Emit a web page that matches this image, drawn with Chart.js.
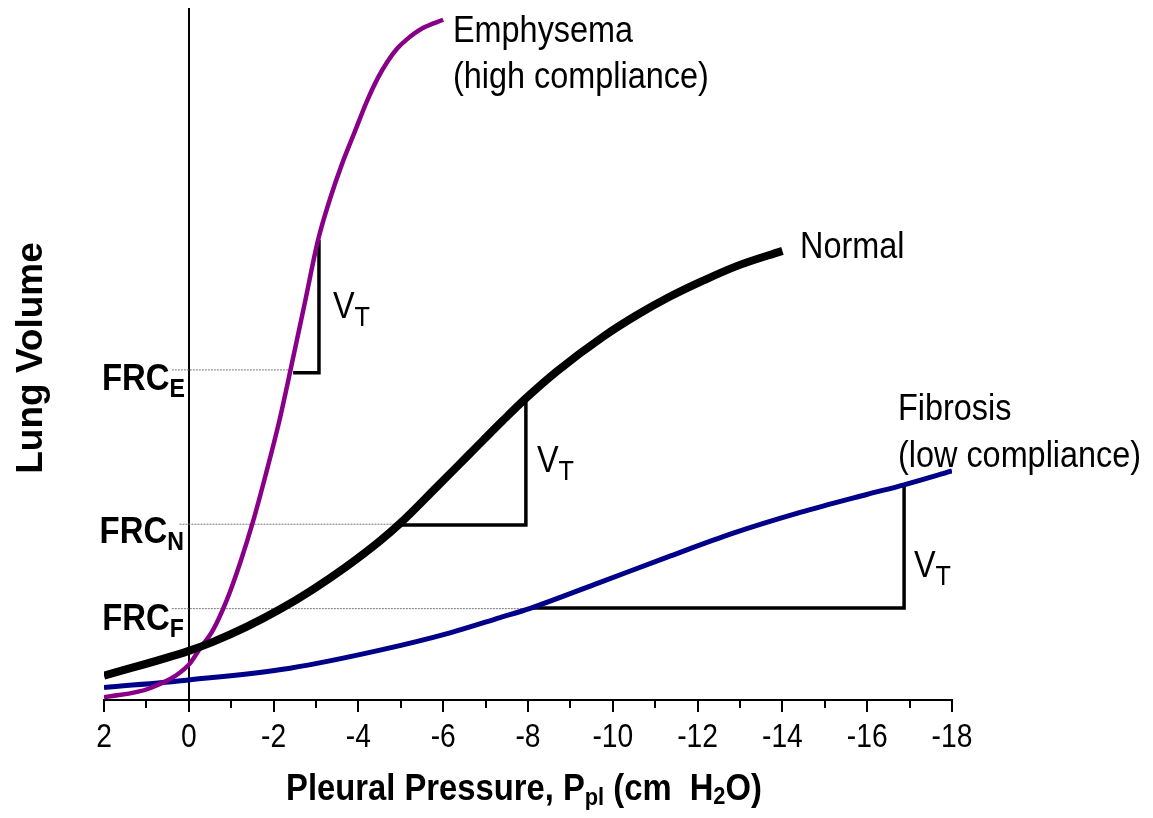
<!DOCTYPE html>
<html>
<head>
<meta charset="utf-8">
<script src="https://cdn.jsdelivr.net/npm/chart.js@4.4.0/dist/chart.umd.min.js"></script>
<style>
  html, body { margin: 0; padding: 0; background: #fff; }
  #wrap { width: 1153px; height: 818px; position: relative; }
</style>
</head>
<body>
<div id="wrap"><canvas id="chart"></canvas></div>
<script>
// pleural pressure (cm H2O) / lung volume (arbitrary units, 0-100)
const xTicks = [2, 0, -2, -4, -6, -8, -10, -12, -14, -16, -18];

const emphysemaP = [2, 0.92, 0, -0.26, -0.57, -0.9, -1.21, -1.51, -1.82, -2.13, -2.41, -2.74, -3.05, -3.33, -3.61, -3.92, -4.2, -4.46, -4.68, -4.91, -5.15, -5.52, -6];
const emphysemaV = [0.4, 1.7, 5.1, 7.4, 10.1, 14.5, 19.8, 25.7, 32.7, 40.2, 48.0, 57.5, 66.5, 72.4, 77.4, 82.2, 86.5, 89.9, 92.2, 94.1, 95.5, 97.1, 98.3];

const normalP = [2, 0, -0.57, -1.37, -2.15, -2.93, -3.72, -4.51, -4.98, -5.85, -6.63, -7.41, -7.95, -8.68, -9.77, -10.56, -11.35, -12.13, -12.92, -14];
const normalV = [3.5, 7.1, 8.4, 10.6, 13.1, 16.0, 19.3, 23.0, 25.5, 30.8, 35.6, 40.4, 43.6, 47.5, 52.5, 55.6, 58.3, 60.6, 62.7, 64.9];

const fibrosisP = [2, 0, -2.39, -4.51, -6.16, -7.34, -8.05, -9.70, -11.27, -12.84, -14.42, -15.99, -16.87, -18];
const fibrosisV = [1.8, 2.9, 4.6, 7.2, 9.7, 11.9, 13.25, 17.0, 20.6, 24.1, 27.1, 29.7, 31.1, 33.1];

// tidal volume triangles
const vtEmphysemaP = [-2.46, -3.07, -3.07];
const vtEmphysemaV = [47.3, 47.3, 66.5];
const vtNormalP = [-4.98, -7.95, -7.95];
const vtNormalV = [25.3, 25.3, 43.4];
const vtFibrosisP = [-8.05, -16.87, -16.87];
const vtFibrosisV = [13.3, 13.3, 30.9];

// FRC guide lines
const frcEP = [0.4, -2.4];
const frcEV = [47.7, 47.7];
const frcNP = [0.22, -4.98];
const frcNV = [25.4, 25.4];
const frcFP = [0.4, -8.05];
const frcFV = [13.2, 13.2];

const zip = (xs, ys) => xs.map((x, i) => ({ x: x, y: ys[i] }));

const FONT = '"Liberation Sans", Arial, Helvetica, sans-serif';

function drawParts(ctx, parts, x, y, align, sx) {
    let w = 0;
    parts.forEach(p => {
        ctx.font = (p.bold ? 'bold ' : '') + p.size + 'px ' + FONT;
        p.w = ctx.measureText(p.t).width;
        w += p.w;
    });
    ctx.save();
    ctx.translate(x, y);
    ctx.scale(sx, 1);
    ctx.textBaseline = 'alphabetic';
    ctx.textAlign = 'left';
    ctx.fillStyle = '#000';
    let cx = align === 'right' ? -w : (align === 'center' ? -w / 2 : 0);
    parts.forEach(p => {
        ctx.font = (p.bold ? 'bold ' : '') + p.size + 'px ' + FONT;
        ctx.fillText(p.t, cx, p.dy || 0);
        cx += p.w;
    });
    ctx.restore();
}

const textPlugin = {
    id: 'texts',
    afterDraw(chart) {
        const ctx = chart.ctx;
        const xs = chart.scales.x;
        const bottom = chart.chartArea.bottom;

        // minor ticks
        ctx.save();
        ctx.strokeStyle = '#000';
        ctx.lineWidth = 2;
        for (let v = 1; v > -18; v -= 2) {
            const px = Math.round(xs.getPixelForValue(v));
            ctx.beginPath();
            ctx.moveTo(px, bottom);
            ctx.lineTo(px, bottom + 8);
            ctx.stroke();
        }
        ctx.restore();

        // tick labels
        xTicks.forEach(v => {
            drawParts(ctx, [{ t: String(v), size: 34 }], xs.getPixelForValue(v), 747, 'center', 0.83);
        });

        // axis titles
        drawParts(ctx, [
            { t: 'Pleural Pressure, P', size: 36, bold: true },
            { t: 'pl', size: 24, bold: true, dy: 5 },
            { t: ' (cm  H', size: 36, bold: true },
            { t: '2', size: 24, bold: true, dy: 4 },
            { t: 'O)', size: 36, bold: true }
        ], 524, 800, 'center', 0.91);

        ctx.save();
        ctx.translate(42, 358);
        ctx.rotate(-Math.PI / 2);
        ctx.font = 'bold 37px ' + FONT;
        ctx.textAlign = 'center';
        ctx.fillStyle = '#000';
        ctx.fillText('Lung Volume', 0, 0);
        ctx.restore();

        // curve labels
        drawParts(ctx, [{ t: 'Emphysema', size: 36 }], 453, 42, 'left', 0.9);
        drawParts(ctx, [{ t: '(high compliance)', size: 36 }], 453, 88, 'left', 0.9);
        drawParts(ctx, [{ t: 'Normal', size: 36 }], 800, 258, 'left', 0.9);
        drawParts(ctx, [{ t: 'Fibrosis', size: 36 }], 898, 420, 'left', 0.9);
        drawParts(ctx, [{ t: '(low compliance)', size: 36 }], 898, 467, 'left', 0.9);

        // tidal volume labels
        const vt = [{ t: 'V', size: 36 }, { t: 'T', size: 28, dy: 8 }];
        drawParts(ctx, vt, 333, 318, 'left', 0.9);
        drawParts(ctx, vt, 537, 472, 'left', 0.9);
        drawParts(ctx, vt, 914, 577, 'left', 0.9);

        // FRC labels
        const frc = s => [{ t: 'FRC', size: 37, bold: true }, { t: s, size: 26, bold: true, dy: 7 }];
        drawParts(ctx, frc('E'), 185, 390, 'right', 0.89);
        drawParts(ctx, frc('N'), 184, 543, 'right', 0.89);
        drawParts(ctx, frc('F'), 184, 630, 'right', 0.89);
    }
};

const curve = (label, data, color, width) => ({
    label: label,
    data: data,
    borderColor: color,
    borderWidth: width,
    pointRadius: 0,
    fill: false,
    cubicInterpolationMode: 'monotone'
});
const seg = (data, color, width, dash) => ({
    data: data,
    borderColor: color,
    borderWidth: width,
    borderDash: dash || [],
    pointRadius: 0,
    fill: false,
    tension: 0
});

const ctx = document.getElementById('chart').getContext('2d');
new Chart(ctx, {
    type: 'line',
    data: {
        datasets: [
            curve('Normal', zip(normalP, normalV), '#000000', 8),
            curve('Emphysema', zip(emphysemaP, emphysemaV), '#880088', 4.5),
            curve('Fibrosis', zip(fibrosisP, fibrosisV), '#000088', 5),
            seg(zip(vtEmphysemaP, vtEmphysemaV), '#000', 3.5),
            seg(zip(vtNormalP, vtNormalV), '#000', 3.5),
            seg(zip(vtFibrosisP, vtFibrosisV), '#000', 3.5),
            seg(zip(frcEP, frcEV), '#777', 1, [2, 1]),
            seg(zip(frcNP, frcNV), '#777', 1, [2, 1]),
            seg(zip(frcFP, frcFV), '#777', 1, [2, 1])
        ]
    },
    options: {
        responsive: true,
        maintainAspectRatio: false,
        animation: false,
        layout: { padding: { left: 104, right: 201, top: 8, bottom: 106 } },
        plugins: {
            legend: { display: false },
            tooltip: { enabled: false }
        },
        scales: {
            x: {
                type: 'linear',
                min: -18,
                max: 2,
                reverse: true,
                ticks: { stepSize: 2, display: false },
                grid: {
                    color: c => (c.tick && c.tick.value === 0 ? '#000' : 'rgba(0,0,0,0)'),
                    lineWidth: 2,
                    tickColor: '#000',
                    tickWidth: 2,
                    tickLength: 12
                },
                border: { display: true, color: '#000', width: 2 }
            },
            y: {
                type: 'linear',
                min: 0,
                max: 100,
                display: false
            }
        }
    },
    plugins: [textPlugin]
});
</script>
</body>
</html>
